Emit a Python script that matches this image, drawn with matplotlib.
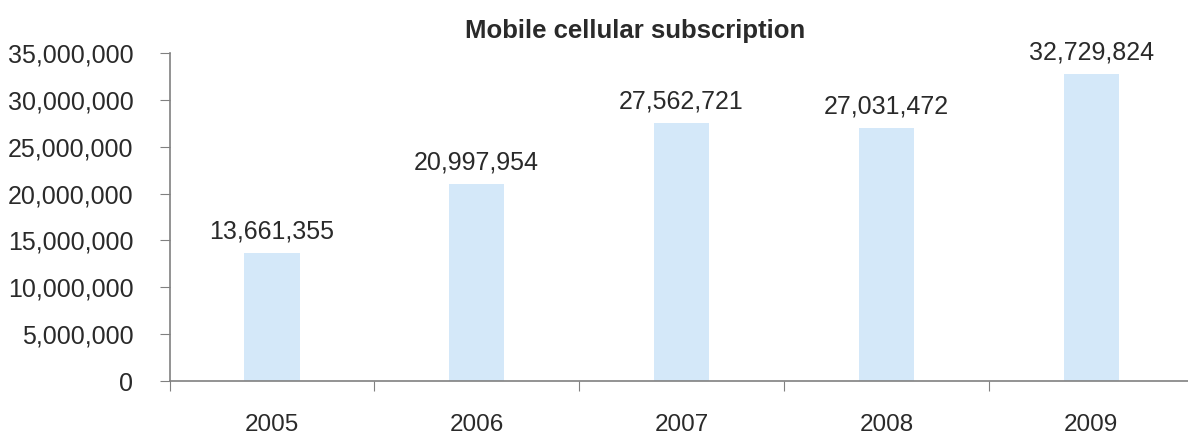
import matplotlib.pyplot as plt
import numpy as np
from matplotlib.ticker import FuncFormatter

plt.rcParams["font.family"] = ["Liberation Sans", "DejaVu Sans"]

years = ["2005", "2006", "2007", "2008", "2009"]
subscriptions = [13661355, 20997954, 27562721, 27031472, 32729824]
y_ticks = [0, 5000000, 10000000, 15000000, 20000000, 25000000, 30000000, 35000000]

bar_color = "#d4e8f9"
axis_color = "#808080"
text_color = "#2a2a2a"

fig = plt.figure(figsize=(11.88, 4.37), dpi=100, facecolor="white")
ax = fig.add_axes([0.1427, 0.128, 0.862, 0.7506])

x = np.arange(len(years))
ax.bar(x, subscriptions, width=0.27, color=bar_color, zorder=2)

for xi, v in zip(x, subscriptions):
    ax.text(xi, v + 1000000, f"{v:,}", ha="center", va="bottom",
            fontsize=18, color=text_color)

ax.set_xlim(-0.5, len(years) - 0.5)
ax.set_ylim(0, 35000000)
ax.set_yticks(y_ticks)
ax.yaxis.set_major_formatter(FuncFormatter(lambda v, p: f"{int(v):,}"))

# category boundaries get tick marks, labels sit in the middle
ax.set_xticks(np.arange(-0.5, len(years), 1.0))
ax.set_xticklabels([])
ax.set_xticks(x, minor=True)
ax.set_xticklabels(years, minor=True)
ax.tick_params(axis="x", which="major", length=7, direction="out", color=axis_color)
ax.tick_params(axis="x", which="minor", length=0, pad=24, labelsize=17.5, labelcolor=text_color)
ax.tick_params(axis="y", length=7, direction="out", color=axis_color, pad=19,
               labelsize=18, labelcolor=text_color)

for side in ["top", "right"]:
    ax.spines[side].set_visible(False)
for side in ["left", "bottom"]:
    ax.spines[side].set_color(axis_color)
    ax.spines[side].set_linewidth(1.2)

fig.text(0.5345, 0.93, "Mobile cellular subscription", ha="center", va="center",
         fontsize=18.5, fontweight="bold", color=text_color)

fig.savefig("out.png", dpi=100, facecolor="white")
